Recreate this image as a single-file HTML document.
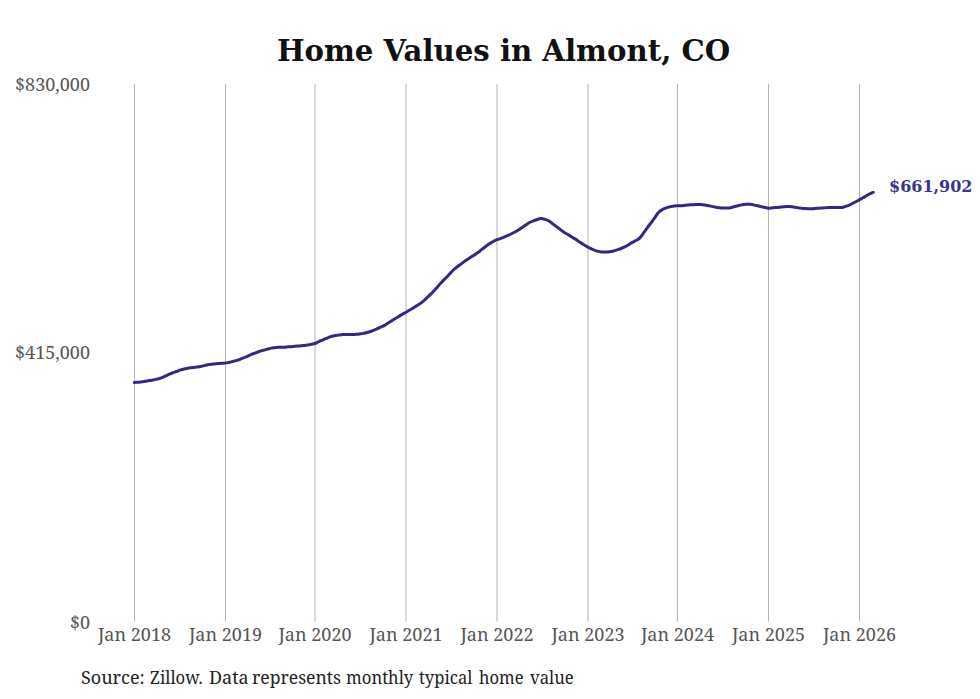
<!DOCTYPE html>
<html><head><meta charset="utf-8"><title>Home Values in Almont, CO</title>
<style>
html,body{margin:0;padding:0;background:#fff;}
body{width:980px;height:699px;position:relative;overflow:hidden;}
.title{position:absolute;left:0;width:1007px;top:34px;text-align:center;font:bold 29.2px "DejaVu Serif",serif;color:#111;white-space:nowrap;}
.yl{position:absolute;right:890px;font:18px "Noto Serif","DejaVu Serif Condensed","Liberation Serif",serif;color:#555;white-space:nowrap;line-height:24px;}
.xl{position:absolute;top:622px;width:120px;text-align:center;font:18px "Noto Serif","DejaVu Serif Condensed","Liberation Serif",serif;color:#555;white-space:nowrap;line-height:24px;}
.src span{position:absolute;top:0;transform-origin:0 0;}
.src{position:absolute;left:0;top:665px;font:18px "Noto Serif","DejaVu Serif Condensed","Liberation Serif",serif;color:#222;white-space:nowrap;line-height:24px;}
.val{position:absolute;left:889px;top:175.5px;font:bold 16px "DejaVu Serif",serif;color:#3a3490;white-space:nowrap;line-height:22px;}
svg{position:absolute;left:0;top:0;}
</style></head><body>
<div class="title">Home Values in Almont, CO</div>
<svg width="980" height="699" viewBox="0 0 980 699">
<g stroke="#b6b6b6" stroke-width="1" fill="none">
<line x1="134.5" y1="84" x2="134.5" y2="621.5"/>
<line x1="225.5" y1="84" x2="225.5" y2="621.5"/>
<line x1="315.0" y1="84" x2="315.0" y2="621.5"/>
<line x1="406.0" y1="84" x2="406.0" y2="621.5"/>
<line x1="497.0" y1="84" x2="497.0" y2="621.5"/>
<line x1="588.0" y1="84" x2="588.0" y2="621.5"/>
<line x1="677.5" y1="84" x2="677.5" y2="621.5"/>
<line x1="768.5" y1="84" x2="768.5" y2="621.5"/>
<line x1="859.5" y1="84" x2="859.5" y2="621.5"/>
</g>
<path d="M134.3,382.5 C135.0,382.4 137.2,382.3 138.6,382.2 C140.0,382.1 141.5,381.9 142.9,381.7 C144.3,381.5 145.8,381.2 147.2,381.0 C148.6,380.8 150.2,380.4 151.5,380.2 C152.8,380.0 153.7,379.8 155.0,379.6 C156.3,379.3 157.9,379.0 159.3,378.5 C160.7,378.0 162.2,377.4 163.6,376.8 C165.0,376.2 166.5,375.5 167.9,374.9 C169.3,374.3 170.8,373.6 172.2,373.0 C173.6,372.4 175.2,372.0 176.5,371.5 C177.8,371.0 178.7,370.6 180.0,370.1 C181.3,369.7 182.9,369.3 184.3,369.0 C185.7,368.7 187.2,368.4 188.6,368.1 C190.0,367.9 191.5,367.7 192.9,367.5 C194.3,367.3 195.8,367.2 197.2,367.0 C198.6,366.8 200.2,366.6 201.5,366.3 C202.8,366.0 203.7,365.7 205.0,365.4 C206.3,365.1 207.9,364.7 209.3,364.5 C210.7,364.3 212.2,364.2 213.6,364.0 C215.0,363.8 216.5,363.6 217.9,363.5 C219.3,363.4 220.9,363.3 222.2,363.2 C223.5,363.1 224.3,363.2 225.6,363.0 C226.9,362.8 228.6,362.6 230.0,362.2 C231.4,361.9 232.9,361.4 234.3,361.0 C235.7,360.6 237.2,360.3 238.6,359.8 C240.0,359.3 241.5,358.8 242.9,358.2 C244.3,357.6 245.8,356.9 247.2,356.3 C248.6,355.7 250.2,354.9 251.5,354.4 C252.8,353.9 253.7,353.6 255.0,353.1 C256.3,352.6 257.9,352.0 259.3,351.5 C260.7,351.0 262.2,350.6 263.6,350.2 C265.0,349.8 266.5,349.4 267.9,349.0 C269.3,348.6 270.8,348.3 272.2,348.0 C273.6,347.7 275.2,347.5 276.5,347.4 C277.8,347.3 278.7,347.3 280.0,347.2 C281.3,347.2 282.9,347.3 284.3,347.2 C285.7,347.1 287.2,346.9 288.6,346.8 C290.0,346.7 291.5,346.6 292.9,346.5 C294.3,346.4 295.8,346.2 297.2,346.1 C298.6,346.0 300.2,345.9 301.5,345.8 C302.8,345.7 303.7,345.5 305.0,345.4 C306.3,345.2 307.7,345.0 309.3,344.7 C310.9,344.4 313.5,343.9 314.9,343.5 C316.3,343.1 316.7,342.6 317.9,342.0 C319.1,341.4 320.8,340.7 322.2,340.1 C323.6,339.5 325.2,338.8 326.5,338.3 C327.8,337.8 328.7,337.4 330.0,336.9 C331.3,336.5 332.9,336.1 334.3,335.8 C335.7,335.5 337.2,335.1 338.6,334.9 C340.0,334.7 341.5,334.7 342.9,334.6 C344.3,334.5 345.8,334.5 347.2,334.5 C348.6,334.5 350.2,334.4 351.5,334.4 C352.8,334.4 353.7,334.4 355.0,334.4 C356.3,334.3 357.9,334.2 359.3,334.0 C360.7,333.8 362.2,333.7 363.6,333.4 C365.0,333.1 366.5,332.7 367.9,332.3 C369.3,331.9 370.8,331.3 372.2,330.8 C373.6,330.3 375.2,329.7 376.5,329.1 C377.8,328.5 378.6,328.1 380.0,327.4 C381.4,326.7 383.4,326.0 385.0,325.1 C386.6,324.2 387.9,323.2 389.3,322.3 C390.7,321.4 392.2,320.4 393.6,319.5 C395.0,318.6 396.5,317.9 397.9,317.0 C399.3,316.1 400.8,315.2 402.2,314.4 C403.6,313.6 404.8,312.9 406.0,312.2 C407.2,311.5 408.0,311.1 409.3,310.3 C410.6,309.6 412.2,308.6 413.6,307.7 C415.0,306.8 416.5,306.0 417.9,305.1 C419.3,304.2 420.8,303.2 422.2,302.1 C423.6,301.0 424.8,299.8 426.5,298.2 C428.2,296.6 430.6,294.3 432.3,292.6 C434.0,290.9 435.2,289.5 436.6,287.9 C438.0,286.3 439.5,284.6 440.9,283.1 C442.3,281.6 443.6,280.2 444.9,278.9 C446.2,277.6 447.3,276.6 448.5,275.3 C449.7,274.0 451.0,272.5 452.1,271.3 C453.2,270.1 453.9,269.4 455.1,268.4 C456.3,267.4 457.9,266.4 459.3,265.3 C460.7,264.2 462.2,263.1 463.6,262.1 C465.0,261.1 466.5,260.1 467.9,259.1 C469.3,258.1 470.8,257.2 472.2,256.3 C473.6,255.4 475.2,254.4 476.5,253.5 C477.8,252.6 478.7,252.0 480.0,251.0 C481.3,250.0 482.9,248.6 484.3,247.5 C485.7,246.4 487.2,245.3 488.6,244.3 C490.0,243.3 491.5,242.5 492.9,241.7 C494.3,240.9 495.6,240.3 497.0,239.7 C498.4,239.1 500.2,238.7 501.5,238.2 C502.8,237.7 503.6,237.2 505.0,236.6 C506.4,236.0 508.3,235.3 510.0,234.5 C511.7,233.7 513.3,232.9 515.0,232.0 C516.7,231.1 518.3,230.1 520.0,229.0 C521.7,227.9 523.3,226.6 525.0,225.5 C526.7,224.4 528.5,223.1 530.0,222.3 C531.5,221.5 532.9,221.1 534.3,220.5 C535.7,219.9 537.5,219.3 538.6,219.0 C539.8,218.7 540.1,218.4 541.2,218.5 C542.3,218.6 543.6,219.0 545.0,219.4 C546.4,219.8 548.1,220.4 549.3,221.1 C550.5,221.8 551.3,222.8 552.3,223.5 C553.2,224.2 553.8,224.8 555.0,225.6 C556.2,226.4 557.9,227.5 559.3,228.6 C560.7,229.7 562.2,231.0 563.6,232.0 C565.0,233.0 566.5,233.7 567.9,234.6 C569.3,235.5 570.8,236.3 572.2,237.2 C573.6,238.1 575.2,238.9 576.5,239.8 C577.8,240.7 578.7,241.5 580.0,242.3 C581.3,243.2 583.0,244.2 584.3,245.0 C585.6,245.8 586.5,246.3 587.9,247.1 C589.3,247.8 591.3,248.8 592.9,249.5 C594.5,250.2 595.8,250.7 597.2,251.1 C598.6,251.5 600.2,251.8 601.5,252.0 C602.8,252.2 603.7,252.0 605.0,252.0 C606.3,252.0 607.9,252.0 609.3,251.8 C610.7,251.6 612.2,251.3 613.6,251.0 C615.0,250.7 616.5,250.2 617.9,249.7 C619.3,249.2 620.8,248.6 622.2,248.0 C623.6,247.4 625.2,246.7 626.5,246.0 C627.8,245.3 628.7,244.5 630.0,243.7 C631.3,242.9 632.9,242.2 634.3,241.4 C635.7,240.6 637.5,239.8 638.6,239.0 C639.7,238.2 640.0,237.8 640.7,236.9 C641.4,236.1 641.8,235.4 642.9,233.9 C644.0,232.4 645.9,229.7 647.2,227.9 C648.5,226.1 649.7,224.6 650.9,223.0 C652.1,221.4 653.0,220.2 654.3,218.4 C655.6,216.6 657.2,213.7 658.6,212.2 C660.0,210.7 661.5,210.0 662.9,209.2 C664.3,208.4 665.8,208.0 667.2,207.5 C668.6,207.0 670.2,206.7 671.5,206.4 C672.8,206.2 674.0,206.1 675.0,206.0 C676.0,205.9 676.2,205.9 677.6,205.8 C679.0,205.7 681.9,205.6 683.6,205.4 C685.3,205.2 686.5,205.0 687.9,204.9 C689.3,204.8 690.8,204.8 692.2,204.7 C693.6,204.6 695.2,204.5 696.5,204.5 C697.8,204.5 698.7,204.4 700.0,204.5 C701.3,204.6 702.9,204.7 704.3,204.9 C705.7,205.1 707.2,205.4 708.6,205.7 C710.0,206.0 711.5,206.3 712.9,206.6 C714.3,206.9 715.8,207.3 717.2,207.5 C718.6,207.7 720.2,207.9 721.5,208.0 C722.8,208.1 723.7,207.9 725.0,207.9 C726.3,207.9 727.9,208.2 729.3,208.0 C730.7,207.8 732.2,207.2 733.6,206.8 C735.0,206.4 736.5,206.0 737.9,205.7 C739.3,205.3 740.8,204.9 742.2,204.7 C743.6,204.4 745.2,204.3 746.5,204.2 C747.8,204.1 748.7,204.2 750.0,204.3 C751.3,204.5 752.9,204.8 754.3,205.1 C755.7,205.4 757.2,205.7 758.6,206.0 C760.0,206.3 761.2,206.6 762.9,207.0 C764.5,207.4 767.1,208.0 768.5,208.2 C769.9,208.4 770.4,208.1 771.5,208.0 C772.6,207.9 773.7,207.7 775.0,207.6 C776.3,207.5 777.9,207.3 779.3,207.2 C780.7,207.1 782.2,206.9 783.6,206.8 C785.0,206.7 786.5,206.6 787.9,206.6 C789.3,206.6 790.8,206.7 792.2,206.8 C793.6,207.0 795.2,207.3 796.5,207.5 C797.8,207.7 798.7,207.9 800.0,208.1 C801.3,208.2 802.9,208.4 804.3,208.5 C805.7,208.6 807.2,208.8 808.6,208.8 C810.0,208.8 811.5,208.8 812.9,208.7 C814.3,208.6 815.8,208.4 817.2,208.3 C818.6,208.2 820.2,208.1 821.5,208.0 C822.8,207.9 823.7,207.8 825.0,207.8 C826.3,207.7 827.9,207.6 829.3,207.6 C830.7,207.6 832.2,207.6 833.6,207.6 C835.0,207.6 836.5,207.6 837.9,207.6 C839.3,207.6 840.9,207.7 842.2,207.5 C843.5,207.3 844.3,206.8 845.6,206.4 C846.9,206.0 848.5,205.5 850.0,204.8 C851.5,204.2 852.7,203.3 854.3,202.5 C855.9,201.7 858.0,200.5 859.4,199.7 C860.8,198.9 861.6,198.6 862.9,197.8 C864.2,197.1 865.8,196.0 867.2,195.2 C868.6,194.4 870.5,193.6 871.5,193.1 C872.5,192.6 872.9,192.5 873.2,192.4" fill="none" stroke="#312a82" stroke-width="3" stroke-linejoin="round" stroke-linecap="round"/>
</svg>
<div class="yl" style="top:72px">$830,000</div>
<div class="yl" style="top:340px">$415,000</div>
<div class="yl" style="top:610px">$0</div>
<div class="xl" style="left:74.5px">Jan 2018</div>
<div class="xl" style="left:165.5px">Jan 2019</div>
<div class="xl" style="left:255.0px">Jan 2020</div>
<div class="xl" style="left:346.0px">Jan 2021</div>
<div class="xl" style="left:437.0px">Jan 2022</div>
<div class="xl" style="left:528.0px">Jan 2023</div>
<div class="xl" style="left:617.5px">Jan 2024</div>
<div class="xl" style="left:708.5px">Jan 2025</div>
<div class="xl" style="left:799.5px">Jan 2026</div>
<div class="val">$661,902</div>
<div class="src"><span style="left:81.0px;transform:scaleX(1.000)">Source:</span> <span style="left:149.9px;transform:scaleX(0.927)">Zillow.</span> <span style="left:208.8px;transform:scaleX(0.997)">Data</span> <span style="left:252.1px;transform:scaleX(0.976)">represents</span> <span style="left:346.0px;transform:scaleX(0.927)">monthly</span> <span style="left:419.4px;transform:scaleX(0.923)">typical</span> <span style="left:478.6px;transform:scaleX(0.921)">home</span> <span style="left:529.5px;transform:scaleX(0.928)">value</span></div>
</body></html>
